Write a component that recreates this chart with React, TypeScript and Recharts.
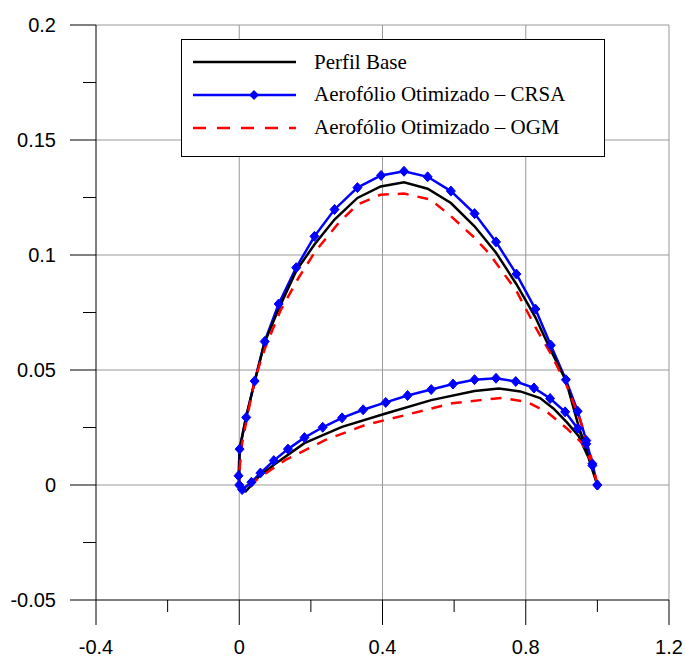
import { LineChart, Line, XAxis, YAxis, CartesianGrid, Legend } from "recharts";

// Perfil Base (black)
const baseUpperX = [1.0, 0.985, 0.97, 0.945, 0.912, 0.87, 0.827, 0.774, 0.717, 0.657, 0.591, 0.526, 0.46, 0.395, 0.33, 0.266, 0.21, 0.159, 0.11, 0.071, 0.043, 0.019, 0.001, 0];
const baseUpperY = [0, 0.007, 0.0145, 0.027, 0.0455, 0.0585, 0.0729, 0.0873, 0.101, 0.1125, 0.1226, 0.1288, 0.1316, 0.1298, 0.1248, 0.1154, 0.1046, 0.0931, 0.0765, 0.0621, 0.0448, 0.0297, 0.0157, 0];
const baseLowerX = [0.006, 0.018, 0.055, 0.097, 0.182, 0.287, 0.409, 0.536, 0.657, 0.725, 0.785, 0.84, 0.878, 0.915, 0.948, 0.975, 1.0];
const baseLowerY = [-0.0025, -0.0028, 0.0037, 0.0088, 0.0182, 0.0253, 0.0311, 0.0369, 0.0409, 0.0419, 0.0407, 0.0378, 0.0332, 0.0272, 0.0212, 0.012, 0];

// Aerofólio Otimizado – CRSA (blue, diamonds)
const crsaUpperX = [1.0, 0.986, 0.969, 0.945, 0.912, 0.87, 0.827, 0.774, 0.717, 0.657, 0.591, 0.526, 0.46, 0.396, 0.33, 0.266, 0.21, 0.159, 0.11, 0.071, 0.043, 0.0195, 0.001, -0.002, 0];
const crsaUpperY = [0, 0.0092, 0.0193, 0.0321, 0.0458, 0.0608, 0.0765, 0.0917, 0.1057, 0.118, 0.1278, 0.134, 0.1364, 0.1346, 0.1293, 0.1198, 0.1081, 0.0945, 0.0787, 0.0624, 0.0452, 0.0294, 0.0156, 0.004, 0];
const crsaLowerX = [0.008, 0.034, 0.059, 0.0965, 0.136, 0.182, 0.233, 0.287, 0.346, 0.409, 0.47, 0.536, 0.597, 0.657, 0.717, 0.772, 0.823, 0.868, 0.91, 0.945, 0.969, 0.986, 1.0];
const crsaLowerY = [-0.002, 0.0012, 0.0052, 0.0106, 0.0156, 0.0206, 0.0251, 0.0292, 0.0327, 0.0359, 0.0389, 0.0415, 0.0439, 0.0458, 0.0464, 0.045, 0.0422, 0.0376, 0.0318, 0.0246, 0.0179, 0.0085, 0];

// Aerofólio Otimizado – OGM (red, dashed)
const ogmUpperX = [1.0, 0.98, 0.952, 0.912, 0.87, 0.827, 0.774, 0.696, 0.657, 0.591, 0.534, 0.46, 0.394, 0.33, 0.278, 0.213, 0.166, 0.115, 0.073, 0.0455, 0.027, 0.008, -0.001, 0];
const ogmUpperY = [0, 0.0138, 0.0282, 0.0441, 0.0571, 0.0686, 0.0844, 0.101, 0.1075, 0.1169, 0.1241, 0.1267, 0.1262, 0.1219, 0.114, 0.1017, 0.0902, 0.0758, 0.0599, 0.047, 0.0333, 0.0182, 0.0037, 0];
const ogmLowerX = [0.008, 0.055, 0.129, 0.241, 0.352, 0.464, 0.594, 0.673, 0.734, 0.803, 0.859, 0.915, 0.957, 0.985, 1.0];
const ogmLowerY = [-0.0023, 0.003, 0.0109, 0.0196, 0.0261, 0.0304, 0.0355, 0.0369, 0.0379, 0.0361, 0.0318, 0.0246, 0.0182, 0.0095, 0];

const xTicks = [-0.4, -0.2, 0, 0.2, 0.4, 0.6, 0.8, 1.0, 1.2];
const yTicks = [-0.05, -0.025, 0, 0.025, 0.05, 0.075, 0.1, 0.125, 0.15, 0.175, 0.2];

function toPoints(xs: number[], ys: number[]) {
  return xs.map((x, i) => ({ x, y: ys[i] }));
}

const baseData = [...toPoints(baseUpperX, baseUpperY), ...toPoints(baseLowerX, baseLowerY)];
const crsaData = [...toPoints(crsaUpperX, crsaUpperY), ...toPoints(crsaLowerX, crsaLowerY)];
const ogmData = [...toPoints(ogmUpperX, ogmUpperY), ...toPoints(ogmLowerX, ogmLowerY)];

const sans = "'Liberation Sans', Arial, sans-serif";
const serif = "'Liberation Serif', 'Times New Roman', serif";

function XTick(props: any) {
  const { x, y, index, payload } = props;
  const major = index % 2 === 0;
  return (
    <g>
      <line x1={x} y1={y} x2={x} y2={y + (major ? 25 : 12)} stroke="#000" strokeWidth={1} />
      {major && (
        <text x={x} y={y + 54} textAnchor="middle" fontSize={20} fontFamily={sans} fill="#000">
          {String(Number(payload.value.toFixed(2)))}
        </text>
      )}
    </g>
  );
}

function YTick(props: any) {
  const { x, y, index, payload } = props;
  const major = index % 2 === 0;
  return (
    <g>
      <line x1={x} y1={y} x2={x - (major ? 26 : 13)} y2={y} stroke="#000" strokeWidth={1} />
      {major && (
        <text x={x - 40} y={y + 7} textAnchor="end" fontSize={20} fontFamily={sans} fill="#000">
          {String(Number(payload.value.toFixed(3)))}
        </text>
      )}
    </g>
  );
}

function Diamond(props: any) {
  const { cx, cy, index } = props;
  if (cx == null || cy == null) return <g key={index} />;
  return (
    <path
      key={index}
      d={`M${cx},${cy - 5}L${cx + 4.5},${cy}L${cx},${cy + 5}L${cx - 4.5},${cy}Z`}
      fill="#0000ff"
      stroke="#0000ff"
      strokeWidth={1}
    />
  );
}

const legendRows = [
  { label: "Perfil Base", color: "#000000", dash: undefined, marker: false },
  { label: "Aerofólio Otimizado – CRSA", color: "#0000ff", dash: undefined, marker: true },
  { label: "Aerofólio Otimizado – OGM", color: "#ff0000", dash: "13 11", marker: false },
];

function LegendBox() {
  return (
    <div
      style={{
        width: 424,
        height: 118,
        boxSizing: "border-box",
        border: "1px solid #000",
        background: "#fff",
        position: "relative",
      }}
    >
      {legendRows.map((row, i) => (
        <div key={row.label} style={{ position: "absolute", left: 0, top: 6 + i * 32.8, height: 32, display: "flex", alignItems: "center" }}>
          <svg width={121} height={14} style={{ marginLeft: 11 }}>
            <line x1={0} y1={7} x2={103} y2={7} stroke={row.color} strokeWidth={2.5} strokeDasharray={row.dash} />
            {row.marker && <path d="M61,2L66,7L61,12L56,7Z" fill={row.color} />}
          </svg>
          <span style={{ fontFamily: serif, fontSize: 21, color: "#000", whiteSpace: "nowrap" }}>{row.label}</span>
        </div>
      ))}
    </div>
  );
}

export default function App() {
  return (
    <div style={{ position: "absolute", left: 0, top: 0, background: "#fff" }}>
      <LineChart width={685} height={659} margin={{ top: 25, right: 16, bottom: 0, left: 0 }}>
        <CartesianGrid
          stroke="#999"
          strokeWidth={1}
          verticalValues={[0, 0.4, 0.8, 1.2]}
          horizontalValues={[0, 0.05, 0.1, 0.15, 0.2]}
        />
        <XAxis
          type="number"
          dataKey="x"
          domain={[-0.4, 1.2]}
          ticks={xTicks}
          interval={0}
          height={59}
          tickSize={0}
          tickMargin={0}
          tickLine={false}
          axisLine={{ stroke: "#000", strokeWidth: 1 }}
          tick={XTick}
          allowDataOverflow
        />
        <YAxis
          type="number"
          dataKey="y"
          domain={[-0.05, 0.2]}
          ticks={yTicks}
          interval={0}
          width={96}
          tickSize={0}
          tickMargin={0}
          tickLine={false}
          axisLine={{ stroke: "#000", strokeWidth: 1 }}
          tick={YTick}
          allowDataOverflow
        />
        <Legend
          layout="vertical"
          align="center"
          verticalAlign="middle"
          content={() => <LegendBox />}
          wrapperStyle={{ left: 181, top: 39, width: 424, height: 118 }}
        />
        <Line
          data={crsaData}
          dataKey="y"
          type="linear"
          stroke="#0000ff"
          strokeWidth={2.5}
          dot={Diamond}
          isAnimationActive={false}
        />
        <Line
          data={baseData}
          dataKey="y"
          type="linear"
          stroke="#000000"
          strokeWidth={2.5}
          dot={false}
          isAnimationActive={false}
        />
        <Line
          data={ogmData}
          dataKey="y"
          type="linear"
          stroke="#ff0000"
          strokeWidth={2.5}
          strokeDasharray="11 9"
          dot={false}
          isAnimationActive={false}
        />
      </LineChart>
    </div>
  );
}
